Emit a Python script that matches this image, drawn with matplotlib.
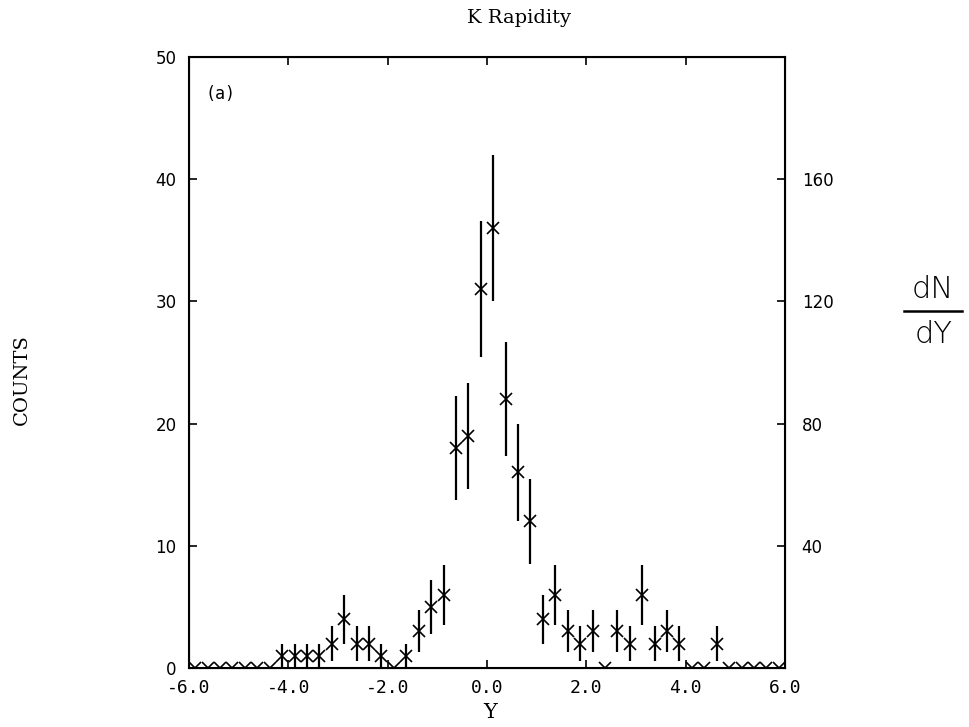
import numpy as np
import matplotlib
matplotlib.use("Agg")
import matplotlib.pyplot as plt

# rapidity bins (width 0.25) and counts
bin_lo = np.arange(-6.0, 6.0, 0.25)
counts = [0, 0, 0, 0, 0, 0, 0, 1, 1, 1, 1, 2, 4, 2, 2, 1,
          0, 1, 3, 5, 6, 18, 19, 31, 36, 22, 16, 12, 4, 6, 3, 2,
          3, 0, 3, 2, 6, 2, 3, 2, 0, 0, 2, 0, 0, 0, 0, 0]
xticks = [-6, -4, -2, 0, 2, 4, 6]
xlabels = ["-6.0", "-4.0", "-2.0", "0.0", "2.0", "4.0", "6.0"]
yticks = [0, 10, 20, 30, 40, 50]
rticks = [40, 80, 120, 160]

centers = bin_lo + 0.125
counts = np.array(counts)
errs = np.sqrt(counts)

fig = plt.figure(figsize=(9.7, 7.27), dpi=100)
ax = fig.add_axes([0.1948, 0.0812, 0.6145, 0.8404])

ax.errorbar(centers, counts, yerr=errs, fmt="x", color="black",
            ms=9, mew=1.2, elinewidth=1.6, capsize=0)

ax.set_xlim(-6, 6)
ax.set_ylim(0, 50)
ax.set_xticks(xticks)
ax.set_xticklabels(xlabels, family="DejaVu Sans Mono", fontsize=13)
ax.set_yticks(yticks)
ax.set_yticklabels([str(t) for t in yticks], family="DejaVu Sans", fontsize=12)
ax.tick_params(direction="in", length=6, width=1.2, top=True, right=False)
ax.tick_params(axis="x", pad=8)
ax.tick_params(axis="y", pad=9)
for s in ax.spines.values():
    s.set_linewidth(1.5)

# right axis: dN/dY = counts / bin width
ax2 = ax.twinx()
ax2.set_ylim(0, 50 / 0.25)
ax2.set_yticks(rticks)
ax2.set_yticklabels([str(t) for t in rticks], family="DejaVu Sans", fontsize=12)
ax2.tick_params(direction="in", length=6, width=1.2, pad=12)

ax.text(-5.36, 47, "(a)", family="DejaVu Sans Mono", fontsize=12,
        ha="center", va="center")

fig.text(0.535, 0.975, "K Rapidity", family="DejaVu Serif", fontsize=14,
         ha="center", va="center")
fig.text(0.505, 0.02, "Y", family="DejaVu Serif", fontsize=15,
         ha="center", va="center")
fig.text(0.023, 0.478, "COUNTS", family="DejaVu Serif", fontsize=14,
         rotation=90, ha="center", va="center")

# hand-written dN/dY on the right
fig.text(0.962, 0.602, "dN", family="DejaVu Sans", fontsize=22,
         ha="center", va="center", fontweight="light")
fig.text(0.962, 0.540, "dY", family="DejaVu Sans", fontsize=22,
         ha="center", va="center", fontweight="light")
fig.add_artist(plt.Line2D([0.932, 0.992], [0.572, 0.572], color="black",
                          lw=1.8, transform=fig.transFigure))

fig.savefig("out.png", dpi=100)
